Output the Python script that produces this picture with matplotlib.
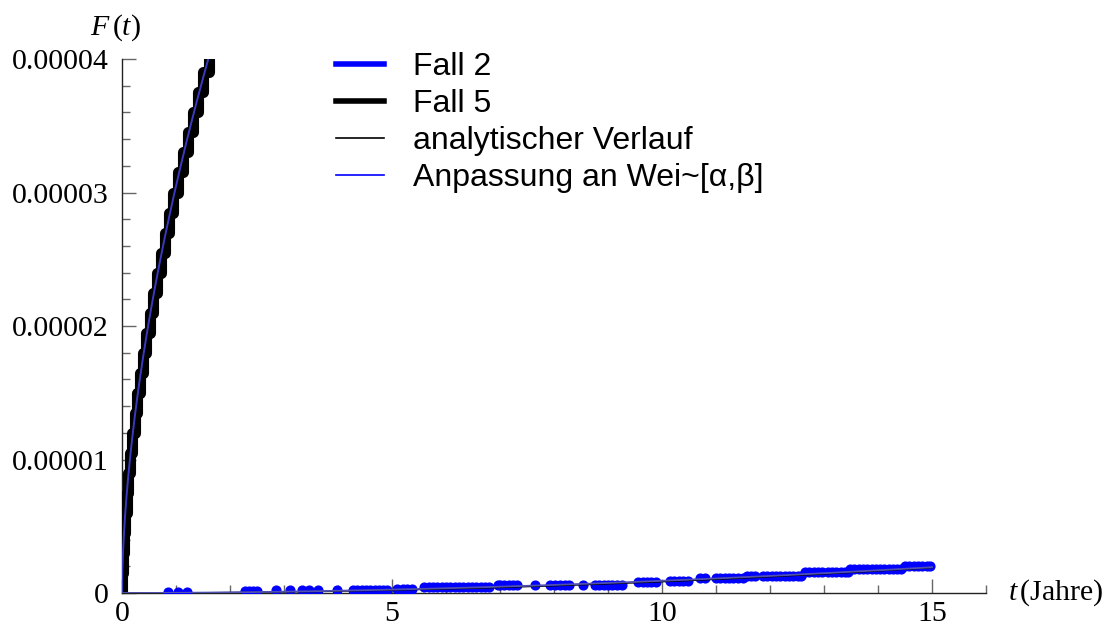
import numpy as np
import matplotlib
matplotlib.use("Agg")
import matplotlib.pyplot as plt
from matplotlib.lines import Line2D
from matplotlib.ticker import MultipleLocator

plt.rcParams['font.family'] = ['Liberation Serif', 'DejaVu Serif']
plt.rcParams['mathtext.fontset'] = 'custom'
plt.rcParams['mathtext.rm'] = 'Liberation Serif'
plt.rcParams['mathtext.it'] = 'Liberation Serif:italic'

# Fall 5: Ausfallzeitpunkte (Jahre), Sprunghoehe je Ausfall
fall5_t = [0.004, 0.016, 0.034, 0.057, 0.085, 0.117, 0.153, 0.193, 0.237, 0.285,
           0.337, 0.392, 0.450, 0.512, 0.577, 0.645, 0.716, 0.792, 0.870, 0.952,
           1.036, 1.124, 1.216, 1.310, 1.405, 1.505, 1.610]
fall5_step = 1.5e-6

# Fall 2: empirische Werte, gruppiert nach Niveau
fall2_levels = [0.05e-6, 0.18e-6, 0.20e-6, 0.24e-6, 0.30e-6, 0.42e-6, 0.60e-6,
                0.80e-6, 0.92e-6, 1.10e-6, 1.30e-6, 1.55e-6, 1.78e-6, 2.05e-6]
fall2_times = [
    [0.85, 1.04, 1.2],
    [2.28, 2.36, 2.43, 2.5],
    [2.85, 3.11, 3.33, 3.46, 3.63, 3.98],
    [4.28, 4.36, 4.44, 4.52, 4.6, 4.68, 4.76, 4.84, 4.9],
    [5.1, 5.2, 5.28, 5.37],
    [5.6, 5.68, 5.76, 5.84, 5.92, 6.0, 6.08, 6.16, 6.24, 6.32, 6.4, 6.48,
     6.56, 6.64, 6.72, 6.8],
    [6.96, 7.0, 7.08, 7.16, 7.24, 7.32, 7.65, 7.93, 8.02, 8.11, 8.2, 8.28,
     8.54, 8.76, 8.84, 8.92, 9.0, 9.08, 9.16, 9.26],
    [9.56, 9.64, 9.72, 9.8, 9.88],
    [10.15, 10.23, 10.31, 10.39, 10.48],
    [10.7, 10.8, 11.0, 11.08, 11.16, 11.24, 11.32, 11.4, 11.5],
    [11.57, 11.65, 11.72, 11.87, 11.95, 12.03, 12.11, 12.19, 12.27, 12.35,
     12.43, 12.51, 12.57],
    [12.65, 12.73, 12.81, 12.89, 12.96, 13.07, 13.15, 13.23, 13.31, 13.38, 13.44],
    [13.48, 13.56, 13.64, 13.72, 13.8, 13.88, 13.96, 14.04, 14.12, 14.2,
     14.28, 14.36, 14.42],
    [14.5, 14.58, 14.66, 14.74, 14.82, 14.9, 14.96],
]

# Weibull-Parameter (Form, Skala in Jahren)
fit5 = (0.58, 6.11e7)
ana5 = (0.60, 3.45e7)
fit2 = (1.85, 18400.0)
ana2 = (2.00, 10882.0)

legend_labels = ['Fall 2', 'Fall 5', 'analytischer Verlauf', 'Anpassung an Wei~[α,β]']


def weibull_cdf(t, shape, scale):
    return 1.0 - np.exp(-(t / scale) ** shape)


fig = plt.figure(figsize=(11.04, 6.37), dpi=100)
ax = fig.add_axes([122 / 1104, 44 / 637, 864 / 1104, 534 / 637])

# Fall 2 Punkte
t2 = np.concatenate([np.array(ts) for ts in fall2_times])
f2 = np.concatenate([np.full(len(ts), lv) for ts, lv in zip(fall2_times, fall2_levels)])
ax.plot(t2, f2, 'o', color='#0000ff', ms=6.3, mec='#0000ff', zorder=3)

# Fall 5 Treppe
t5 = np.concatenate([[0.0], fall5_t])
f5 = np.arange(len(t5)) * fall5_step
ax.plot(t5, f5, color='black', lw=8, drawstyle='steps-post', zorder=3)

tt5 = np.linspace(0, 2.0, 600)
tt2 = np.linspace(0, 15, 400)
ax.plot(tt5, weibull_cdf(tt5, *ana5), color='black', lw=1.0, zorder=4)
ax.plot(tt2, weibull_cdf(tt2, *ana2), color='black', lw=1.0, zorder=4)
ax.plot(tt5, weibull_cdf(tt5, *fit5), color='#3a3ac0', lw=1.4, zorder=5)
ax.plot(tt2, weibull_cdf(tt2, *fit2), color='#5050b0', lw=1.3, zorder=5)

ax.set_xlim(0, 16)
ax.set_ylim(0, 0.00004)
for s in ['top', 'right']:
    ax.spines[s].set_visible(False)
for s in ['left', 'bottom']:
    ax.spines[s].set_color('#222222')
    ax.spines[s].set_linewidth(1.0)

ax.xaxis.set_minor_locator(MultipleLocator(1))
ax.yaxis.set_minor_locator(MultipleLocator(0.000002))
ax.set_xticks([0, 5, 10, 15])
ax.set_xticklabels(['0', '5', '10', '15'])
ax.set_yticks([0, 0.00001, 0.00002, 0.00003, 0.00004])
ax.set_yticklabels(['0', '0.00001', '0.00002', '0.00003', '0.00004'])
ax.tick_params(which='both', direction='in', colors='#666666', labelcolor='black',
               labelsize=21.5)
ax.tick_params(which='major', length=10, width=1.0)
ax.tick_params(which='minor', length=6, width=1.0)
ax.tick_params(axis='y', pad=9.5)
ax.tick_params(axis='x', pad=6)

fig.text(115 / 1104, 1 - 28 / 637, '$F\\,(t)$', fontsize=21.5, ha='center', va='center')
fig.text(1008 / 1104, 1 - 593 / 637, '$t\\,$(Jahre)', fontsize=21.5, ha='left', va='center')

handles = [Line2D([], [], color='#0000ff', lw=4),
           Line2D([], [], color='black', lw=4),
           Line2D([], [], color='black', lw=1.2),
           Line2D([], [], color='#0000ff', lw=1.2)]
fig.legend(handles, legend_labels, loc='upper left',
           bbox_to_anchor=(336 / 1104, 1 - 52 / 637), frameon=False, borderpad=0,
           borderaxespad=0, handlelength=1.5, handletextpad=0.9, labelspacing=0.22,
           prop={'family': 'Liberation Sans', 'size': 23})

fig.savefig('out.png', dpi=100)
